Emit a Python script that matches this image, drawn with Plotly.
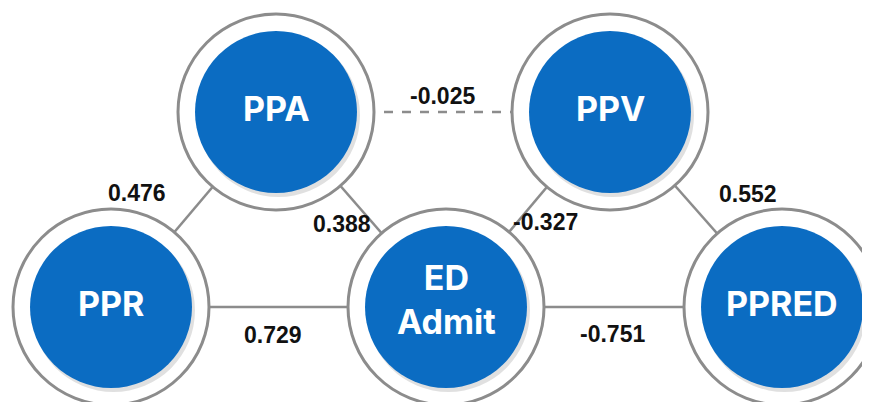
import plotly.graph_objects as go

# Nodes
node_names = ["PPR", "PPA", "PPV", "ED<br>Admit", "PPRED"]
node_x = [111, 276, 610, 446, 782]
node_y = [307, 112, 112, 307, 307]

# Edges (from, to, coefficient, dashed)
edge_from = [0, 1, 1, 2, 2, 0, 3]
edge_to = [1, 3, 2, 3, 4, 3, 4]
edge_value = ["0.476", "0.388", "-0.025", "-0.327", "0.552", "0.729", "-0.751"]
edge_dashed = [False, False, True, False, False, False, False]
label_x = [137, 342, 442, 545, 748, 273, 612]
label_y = [193, 224, 96, 222, 194, 335, 334]

RING_R = 98
BLUE_R = 81
BLUE = "#0b6cc2"
GRAY = "#8c8c8c"
OFF = 8  # page body margin compensation

fig = go.Figure()

for f, t, d in zip(edge_from, edge_to, edge_dashed):
    fig.add_trace(go.Scatter(
        x=[node_x[f], node_x[t]], y=[node_y[f], node_y[t]],
        mode="lines",
        line=dict(color=GRAY, width=2.5, dash="dash" if d else "solid"),
        hoverinfo="skip", showlegend=False,
    ))

shapes = []
for x, y in zip(node_x, node_y):
    shapes.append(dict(type="circle", xref="x", yref="y", layer="above",
                       x0=x - RING_R, x1=x + RING_R, y0=y - RING_R, y1=y + RING_R,
                       fillcolor="white", line=dict(color=GRAY, width=3)))
    shapes.append(dict(type="circle", xref="x", yref="y", layer="above",
                       x0=x - BLUE_R + 2, x1=x + BLUE_R + 3, y0=y - BLUE_R + 3, y1=y + BLUE_R + 4,
                       fillcolor="rgba(0,0,0,0.12)", line=dict(width=0)))
    shapes.append(dict(type="circle", xref="x", yref="y", layer="above",
                       x0=x - BLUE_R, x1=x + BLUE_R, y0=y - BLUE_R, y1=y + BLUE_R,
                       fillcolor=BLUE, line=dict(width=0)))

annotations = []
for name, x, y in zip(node_names, node_x, node_y):
    annotations.append(dict(x=x, y=y, xref="x", yref="y", text=name, showarrow=False,
                            yshift=8 if "<br>" in name else 4,
                            font=dict(family="Inter", size=34, color="white", weight=700),
                            align="center"))
for txt, x, y in zip(edge_value, label_x, label_y):
    annotations.append(dict(x=x, y=y, xref="x", yref="y", text=txt, showarrow=False,
                            font=dict(family="Liberation Sans", size=23, color="#111111", weight=700)))

fig.update_layout(
    width=870, height=402,
    margin=dict(l=0, r=0, t=0, b=0),
    paper_bgcolor="white", plot_bgcolor="white",
    xaxis=dict(range=[OFF, 870 + OFF], visible=False, fixedrange=True),
    yaxis=dict(range=[402 + OFF, OFF], visible=False, fixedrange=True),
    shapes=shapes, annotations=annotations,
    showlegend=False,
)

fig.write_html("out.html")
